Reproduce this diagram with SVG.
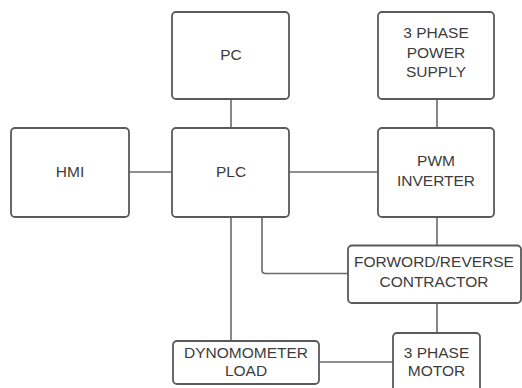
<svg xmlns="http://www.w3.org/2000/svg" width="522" height="388" viewBox="0 0 522 388">
<style>
.box{fill:#fff;stroke:#5a5a5a;stroke-width:1.8}
.ln{fill:none;stroke:#6a6a6a;stroke-width:1.6}
text{font-family:"Liberation Sans",Arial,sans-serif;font-size:15.5px;fill:#3c3c3c;text-anchor:middle}
</style>
<rect width="522" height="388" fill="#fff"/>
<g id="connectors">
<line class="ln" x1="231" y1="99" x2="231" y2="128"/>
<line class="ln" x1="437" y1="99" x2="437" y2="128"/>
<line class="ln" x1="129" y1="172" x2="172" y2="172"/>
<line class="ln" x1="289" y1="172" x2="378" y2="172"/>
<line class="ln" x1="437" y1="217" x2="437" y2="246"/>
<path class="ln" d="M262 217 V270 Q262 273.5 265.5 273.5 H348"/>
<line class="ln" x1="231" y1="217" x2="231" y2="341"/>
<line class="ln" x1="437" y1="303" x2="437" y2="333"/>
<line class="ln" x1="319" y1="362" x2="393" y2="362"/>
</g>
<g id="pc"><rect class="box" x="172" y="12" width="117" height="87" rx="4"/><text x="231" y="60">PC</text></g>
<g id="power"><rect class="box" x="378" y="12" width="116" height="87" rx="4"/><text x="436" y="38">3 PHASE</text><text x="436" y="57.5">POWER</text><text x="436" y="77">SUPPLY</text></g>
<g id="hmi"><rect class="box" x="11" y="128" width="118" height="89" rx="4"/><text x="70" y="177">HMI</text></g>
<g id="plc"><rect class="box" x="172" y="128" width="117" height="89" rx="4"/><text x="231" y="177">PLC</text></g>
<g id="pwm"><rect class="box" x="378" y="128" width="116" height="89" rx="4"/><text x="436" y="166">PWM</text><text x="436" y="185.5">INVERTER</text></g>
<g id="fr"><rect class="box" x="348" y="245.5" width="173" height="57.5" rx="4"/><text x="434" y="267">FORWORD/REVERSE</text><text x="434" y="287">CONTRACTOR</text></g>
<g id="dyno"><rect class="box" x="173" y="341" width="146" height="43" rx="4"/><text x="246" y="357.5">DYNOMOMETER</text><text x="246" y="375.5">LOAD</text></g>
<g id="motor"><rect class="box" x="393" y="333" width="87" height="60" rx="4"/><text x="436.5" y="357.5">3 PHASE</text><text x="436.5" y="375.5">MOTOR</text></g>
</svg>
